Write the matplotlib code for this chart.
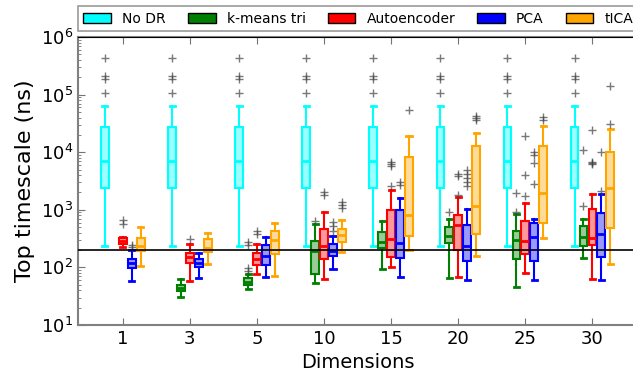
import numpy as np
import matplotlib.pyplot as plt
from matplotlib.patches import Patch
from matplotlib.colors import to_rgba

dims = ['1', '3', '5', '10', '15', '20', '25', '30']
methods = ['No DR', 'k-means tri', 'Autoencoder', 'PCA', 'tICA']
colors = ['cyan', 'green', 'red', 'blue', 'orange']

# (whislo, q1, median, q3, whishi) per dimension, None = no box
nodr_box = [(236, 2345, 7110, 27750, 64400)] * 8
nodr_fliers = [[108000, 187000, 208000, 434000]] * 8

kmeans_box = [None,
              (31.0, 39.0, 44.6, 49.6, 63.8),
              (42.3, 49.0, 55.3, 64.9, 76.2),
              (54.4, 78, 194, 292, 578),
              (95.3, 221, 281, 409, 644),
              (64.9, 264, 353, 512, 706),
              (46.4, 139, 297, 437, 852),
              (146, 236, 343, 521, 697)]
kmeans_fliers = [[], [], [88, 99, 246, 277], [644], [], [898],
                 [898, 1950], [1174, 10740]]

ae_box = [(224, 253, 289, 330, 335),
          (58.9, 121, 152, 181, 259),
          (76.2, 110, 142, 177, 253),
          (63.8, 139, 236, 473, 934),
          (102, 154, 317, 1000, 2168),
          (68.4, 201, 548, 818, 1663),
          (81.2, 172, 292, 644, 1308),
          (63.8, 243, 326, 1029, 1845)]
ae_fliers = [[564, 670], [313], [383, 431], [1824, 2056],
             [2543, 5660, 6140, 6760], [1824, 3795, 4227],
             [1751, 4011, 19360], [6140, 6490, 6840, 23930]]

pca_box = [(58.2, 96.8, 118, 142, 200),
           (64.9, 101, 121, 139, 181),
           (69.2, 110, 157, 246, 335),
           (95.3, 157, 194, 253, 357),
           (67.6, 148, 264, 988, 1617),
           (60.6, 131, 236, 542, 1041),
           (59.9, 130, 335, 594, 706),
           (59.9, 154, 383, 877, 1897)]
pca_fliers = [[222, 245], [], [], [426, 533, 618], [2723, 3033],
              [2543, 2985, 3559, 4227, 4966], [2831, 6490, 8940, 9930],
              [2081, 9930]]

tica_box = [(106, 194, 236, 330, 506),
            (115, 184, 221, 309, 403),
            (70.3, 170, 304, 426, 601),
            (188, 281, 372, 473, 662),
            (201, 353, 828, 8350, 18840),
            (160, 378, 1174, 12820, 21230),
            (322, 601, 1950, 12820, 28560),
            (115, 481, 2345, 10080, 24950)]
tica_fliers = [[], [], [], [1072, 1222, 1393], [54200],
               [35720, 39380, 43150], [36740, 40970], [30900, 139300]]

all_boxes = [nodr_box, kmeans_box, ae_box, pca_box, tica_box]
all_fliers = [nodr_fliers, kmeans_fliers, ae_fliers, pca_fliers, tica_fliers]

fig = plt.figure(figsize=(6.33, 3.76), dpi=100)
# right edge of the axes sits just outside the picture, as in the original
ax = fig.add_axes([0.123, 0.1356, 0.886, 0.766])

offset = 0.133
width = 0.115
for k in range(5):
    stats, pos = [], []
    for i in range(len(dims)):
        b = all_boxes[k][i]
        if b is None:
            continue
        stats.append(dict(whislo=b[0], q1=b[1], med=b[2], q3=b[3], whishi=b[4],
                          fliers=all_fliers[k][i]))
        pos.append(i + 1 + (k - 2) * offset)
    c = colors[k]
    bp = ax.bxp(stats, positions=pos, widths=width, patch_artist=True,
                capwidths=0.075, manage_ticks=False,
                boxprops=dict(edgecolor=c, linewidth=1.5),
                medianprops=dict(color=c, linewidth=2),
                whiskerprops=dict(color=c, linewidth=1.5),
                capprops=dict(color=c, linewidth=2),
                flierprops=dict(marker='+', markeredgecolor='0.25', alpha=0.7,
                                markersize=6, markeredgewidth=1))
    for patch in bp['boxes']:
        patch.set_facecolor(to_rgba(c, 0.4))

ax.axhline(200, color='black', linewidth=1.2, zorder=3)
ax.axhline(1e6, color='black', linewidth=1.5, zorder=3)

ax.set_yscale('log')
ax.set_ylim(10, 1e6)
ax.set_xlim(0.33, 8.69)
ax.set_xticks(np.arange(1, len(dims) + 1))
ax.set_xticklabels(dims)
ax.tick_params(axis='both', which='both', direction='in', colors='0.45',
               labelcolor='black', labelsize=13, top=True, right=False)
ax.tick_params(axis='x', which='minor', top=False, bottom=False)
ax.tick_params(which='major', length=5)
for s in ax.spines.values():
    s.set_color('0.5')
    s.set_linewidth(1.5)

ax.set_xlabel('Dimensions', fontsize=14)
ax.set_ylabel('Top timescale (ns)', fontsize=16)

handles = [Patch(facecolor=c, edgecolor='black') for c in colors]
leg = ax.legend(handles, methods, loc='lower left', ncol=5, mode='expand',
                bbox_to_anchor=(0., 1.02, 1., 0.09), borderaxespad=0.,
                fontsize=10, fancybox=False, frameon=True)
leg.get_frame().set_edgecolor('0.5')
leg.get_frame().set_linewidth(1.2)

plt.savefig('out.png')
